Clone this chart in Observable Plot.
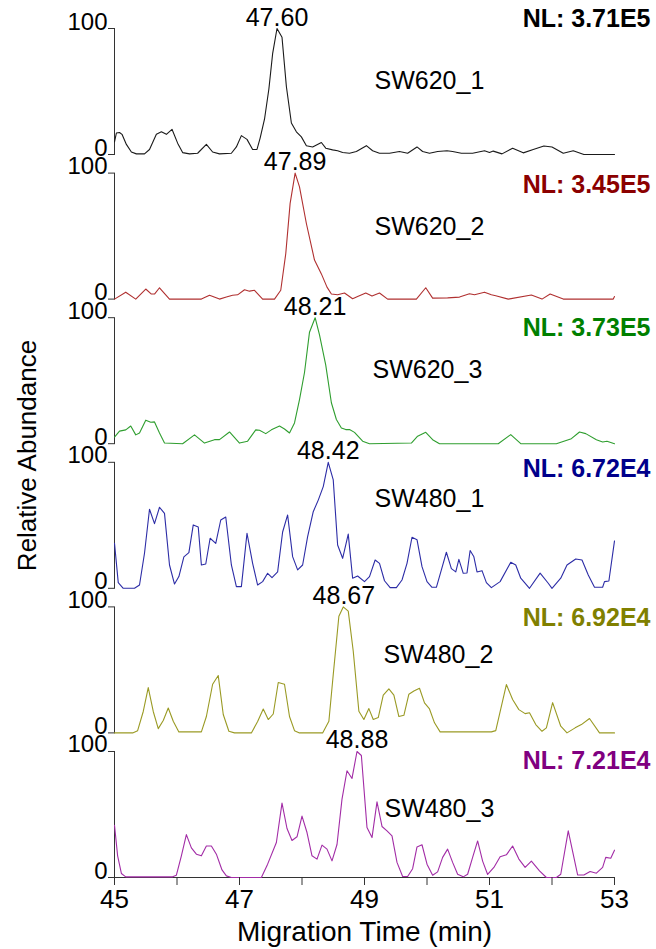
<!DOCTYPE html>
<html><head><meta charset="utf-8">
<script src="https://cdn.jsdelivr.net/npm/d3@7"></script>
<script src="https://cdn.jsdelivr.net/npm/@observablehq/plot@0.6"></script>
<style>
body{margin:0;background:#fff;}
#chart svg{display:block;font-family:"Liberation Sans",Arial,Helvetica,sans-serif;background:#fff;}
</style>
</head><body><div id="chart"></div>
<script>
// ---------- data ----------
const samples = ["SW620_1", "SW620_2", "SW620_3", "SW480_1", "SW480_2", "SW480_3"];
const nlLabels = ["NL: 3.71E5", "NL: 3.45E5", "NL: 3.73E5", "NL: 6.72E4", "NL: 6.92E4", "NL: 7.21E4"];
const peakTimes = [47.60, 47.89, 48.21, 48.42, 48.67, 48.88];
const xTicks = [45, 46, 47, 48, 49, 50, 51, 52, 53];
const xTickLabels = [45, 47, 49, 51, 53];
const yTicks = [0, 100];
const xTitle = "Migration Time (min)";
const yTitle = "Relative Abundance";

// [time (min), relative abundance (%)]
const sw620_1 = [[45.00,10],[45.03,17],[45.08,17.5],[45.12,16],[45.19,8],[45.27,2],[45.35,0.5],[45.48,0.5],[45.56,4],[45.67,16],[45.75,18],[45.83,16],[45.92,20],[46.01,9],[46.09,1.5],[46.20,0.5],[46.33,1],[46.47,8],[46.57,2],[46.68,0.5],[46.87,1],[46.95,6],[47.03,15],[47.12,12],[47.21,4],[47.28,4],[47.33,13],[47.40,28],[47.47,52],[47.53,80],[47.60,100],[47.68,93],[47.75,54],[47.83,25],[47.91,18],[47.99,14],[48.07,7],[48.17,6],[48.31,9.5],[48.38,5],[48.49,3.7],[48.57,3],[48.65,1.6],[48.76,1],[48.87,2.4],[49.03,7],[49.13,3],[49.24,1],[49.40,1],[49.56,2.4],[49.69,1],[49.84,6],[49.93,2.4],[50.04,1],[50.17,2.4],[50.32,3],[50.41,2.4],[50.55,1],[50.73,1],[50.92,3],[51.00,1.6],[51.06,2.7],[51.20,0.5],[51.37,5],[51.54,1.3],[51.70,4],[51.87,6.7],[52.00,6],[52.18,1],[52.34,3],[52.51,0],[53.00,0]];
const sw620_2 = [[45.00,0],[45.18,5.5],[45.34,0],[45.50,8],[45.59,4],[45.64,4],[45.72,9],[45.88,0],[46.39,0],[46.52,3],[46.68,0],[46.79,1.6],[46.89,3],[46.97,3.4],[47.08,7.4],[47.16,6.3],[47.24,7],[47.37,0],[47.56,0],[47.66,7],[47.74,36],[47.81,76],[47.89,100],[47.96,89],[48.07,60],[48.20,31],[48.31,20],[48.40,9.5],[48.47,4],[48.57,3.4],[48.68,4.8],[48.81,0.3],[48.89,2],[49.02,4.8],[49.12,2.4],[49.24,4.8],[49.37,0],[49.83,0],[49.98,9],[50.09,0.8],[50.33,1],[50.52,1.6],[50.68,4.2],[50.76,3.4],[50.92,5.5],[51.03,3.4],[51.10,2.6],[51.30,0],[51.67,3.2],[51.84,0],[51.97,4],[52.18,0],[52.98,0],[53.00,2]];
const sw620_3 = [[45.00,5.3],[45.08,10],[45.18,11],[45.26,14],[45.34,7],[45.40,8.5],[45.50,18.7],[45.58,17],[45.64,17.3],[45.72,8.5],[45.80,0.5],[46.09,0],[46.28,7],[46.44,0.5],[46.60,3.2],[46.68,3.2],[46.84,9.3],[47.00,0.5],[47.13,2],[47.26,11],[47.32,10.7],[47.42,8],[47.51,11],[47.64,14],[47.72,11.7],[47.80,8.5],[47.88,16.5],[47.96,35],[48.04,56.5],[48.12,88.5],[48.21,100],[48.28,86.4],[48.38,62.4],[48.47,32.5],[48.55,19.2],[48.63,12.5],[48.70,11.2],[48.76,11.2],[48.84,9],[48.97,2],[49.08,0],[49.75,0.5],[49.85,6],[49.98,9],[50.09,3.2],[50.20,0],[51.14,0],[51.34,7.2],[51.50,0],[52.07,0],[52.31,4],[52.44,9.3],[52.54,8],[52.71,3.2],[52.81,1.3],[52.88,2],[53.00,0]];
const sw480_1 = [[45.00,35.7],[45.06,4.5],[45.14,0],[45.32,0],[45.40,2.6],[45.48,27.8],[45.56,62.7],[45.64,51.3],[45.72,64.3],[45.80,59.5],[45.88,18.5],[45.96,3.4],[46.03,9.3],[46.11,25],[46.19,28.3],[46.26,50.3],[46.34,48.7],[46.39,18.5],[46.46,19.3],[46.53,39.7],[46.62,35.7],[46.70,54.2],[46.78,56.6],[46.87,18.5],[46.95,1.3],[47.03,1.3],[47.12,43.7],[47.21,19.8],[47.29,2.6],[47.37,5.3],[47.45,11.9],[47.52,8.5],[47.61,13],[47.69,44.7],[47.77,58.2],[47.85,25.1],[47.93,14.6],[48.01,18.5],[48.09,41],[48.18,60.8],[48.26,70],[48.34,80.7],[48.42,100],[48.50,86],[48.57,34.4],[48.65,23.8],[48.74,43],[48.81,8],[48.89,9.8],[49.00,5.3],[49.08,9.3],[49.17,22.5],[49.24,19.8],[49.32,6],[49.41,0.5],[49.51,0.5],[49.60,6.6],[49.68,19.8],[49.76,40.5],[49.84,38.6],[49.92,17.2],[50.00,5.3],[50.08,0.8],[50.15,0.8],[50.23,14.6],[50.31,28.6],[50.39,15.6],[50.46,13],[50.51,23],[50.58,11.9],[50.64,12.2],[50.69,30],[50.75,25],[50.80,13],[50.88,14],[50.95,4.5],[51.03,0.5],[51.17,5.3],[51.34,20.6],[51.42,18.5],[51.50,8],[51.64,0],[51.81,12],[51.94,4],[52.00,0],[52.14,8],[52.24,18.5],[52.38,23.3],[52.48,22.5],[52.58,10.6],[52.68,0.8],[52.81,0.8],[52.84,5.3],[52.91,5.8],[53.00,37.6]];
const sw480_2 = [[45.00,0],[45.29,0],[45.37,1.8],[45.46,17],[45.54,36],[45.62,17],[45.70,3.4],[45.78,9.8],[45.86,19.8],[45.94,9.3],[46.03,0.8],[46.39,0.8],[46.47,13],[46.57,38.6],[46.66,45.5],[46.74,14.6],[46.83,1.3],[46.92,0],[47.19,0],[47.29,9],[47.38,19],[47.46,10.6],[47.54,15],[47.62,40],[47.72,38.6],[47.80,13],[47.88,1.8],[47.96,0],[48.33,0],[48.43,9.3],[48.50,46.3],[48.59,92.6],[48.66,100],[48.74,96.6],[48.82,64.8],[48.91,17.2],[48.99,10.6],[49.07,19.3],[49.14,10.6],[49.22,12.2],[49.30,30],[49.39,35],[49.47,30],[49.55,13],[49.63,14],[49.71,30.7],[49.79,33.3],[49.88,35.4],[49.96,23.8],[50.04,19],[50.12,8],[50.21,0.8],[51.03,0.8],[51.10,1.8],[51.27,38.4],[51.37,26.5],[51.47,18.5],[51.57,15.3],[51.64,16],[51.74,6.6],[51.84,1.3],[51.91,4],[52.01,24],[52.14,5.3],[52.24,0],[52.37,4],[52.47,6.6],[52.60,11.4],[52.76,0],[53.00,0]];
const sw480_3 = [[45.00,41.5],[45.05,17.2],[45.11,3.2],[45.18,0.5],[45.93,0.5],[45.99,1.8],[46.07,17.2],[46.15,34],[46.23,23.5],[46.31,18.5],[46.39,17.2],[46.47,25],[46.55,25],[46.63,18.5],[46.72,6],[46.79,1.3],[46.87,0],[47.35,0],[47.45,10.6],[47.59,27.8],[47.68,59],[47.76,38.9],[47.84,29.4],[47.92,32.3],[48.00,48.7],[48.08,35.7],[48.16,17.2],[48.24,14.6],[48.32,25.7],[48.40,22.5],[48.48,13.2],[48.56,26.2],[48.64,62.2],[48.72,84.7],[48.80,78.6],[48.88,100],[48.95,96.8],[49.04,39.7],[49.12,31.7],[49.20,60],[49.28,40.5],[49.36,37],[49.44,33],[49.52,12],[49.61,0.8],[49.69,0.8],[49.77,7],[49.84,24.3],[49.92,26],[50.00,10.6],[50.09,1.8],[50.17,4.5],[50.25,16],[50.33,22.5],[50.41,12],[50.49,2.6],[50.58,0.5],[50.65,2.6],[50.73,16],[50.81,29],[50.89,13],[50.97,2.4],[51.07,8],[51.17,16.4],[51.27,18],[51.37,25],[51.47,14.6],[51.57,8],[51.67,13],[51.80,5.3],[51.91,0],[52.07,0],[52.14,2.6],[52.26,37],[52.41,2],[52.51,2],[52.61,4.8],[52.71,3.4],[52.81,8],[52.86,16],[52.94,15.3],[53.00,21.7]];

// ---------- styles ----------
const lineColors = ["#1a1a1a", "#b03030", "#2f9e2f", "#2c2ca6", "#9a9a24", "#a22ca6"];
const nlColors = ["#000000", "#8b0000", "#008000", "#00008b", "#808000", "#800080"];
const nlDy = [-10, 12, 10, 7, 11, 10];
const nameDx = [260, 260, 258, 260, 269, 270];
const nameDy = [52, 54, 52, 37, 48, 58];

// ---------- build ----------
const series = [sw620_1, sw620_2, sw620_3, sw480_1, sw480_2, sw480_3];
const rows = series.map((s, i) => s.map(([t, v]) => ({sample: samples[i], t, v})));
const peaks = samples.map((s, i) => ({sample: s, t: peakTimes[i], v: yTicks[1]}));
const last = samples[samples.length - 1];

const W = 656, H = 949, mT = 28, mB = 72, mL = 114, mR = 42;
const font = '"Liberation Sans", Arial, Helvetica, sans-serif';

const marks = [
  Plot.frame({anchor: "left", stroke: "#333"}),
  Plot.ruleY([{sample: last}], {y: () => yTicks[0], fy: "sample", stroke: "#333"}),
  ...rows.map((r, i) => Plot.line(r, {x: "t", y: "v", fy: "sample", stroke: lineColors[i], strokeWidth: 1.1})),
  // y axis: ticks + labels (baseline sits on the tick, as in the reference)
  Plot.axisY({ticks: yTicks, tickSize: 6, fill: "none", stroke: "#333", label: null}),
  Plot.text(yTicks, {y: d => d, text: d => String(d), frameAnchor: "left", textAnchor: "end", lineAnchor: "bottom", dx: -7, dy: 1, fontSize: 24, fontFamily: font, fill: "#000"}),
  // x axis (bottom facet only): ticks at every minute, labels every 2 min
  Plot.axisX({ticks: xTicks, tickSize: 8, fill: "none", stroke: "#333", label: null}),
  Plot.text(xTickLabels, {x: d => d, fy: () => last, text: d => String(d), frameAnchor: "bottom", textAnchor: "middle", lineAnchor: "top", dy: 12, fontSize: 26, fontFamily: font, fill: "#000"}),
  Plot.text(peaks, {x: "t", y: "v", fy: "sample", text: d => d3.format(".2f")(d.t), lineAnchor: "bottom", dy: -3, fontSize: 25, fontFamily: font, fill: "#000"}),
  ...samples.map((s, i) => Plot.text([s], {fy: d => d, text: () => nlLabels[i], frameAnchor: "top-right", textAnchor: "end", lineAnchor: "middle", dx: 36, dy: nlDy[i], fontSize: 25, fontWeight: "bold", fontFamily: font, fill: nlColors[i]})),
  ...samples.map((s, i) => Plot.text([s], {fy: d => d, text: d => d, frameAnchor: "top-left", textAnchor: "start", lineAnchor: "middle", dx: nameDx[i], dy: nameDy[i], fontSize: 25, fontFamily: font, fill: "#000"})),
  Plot.text([xTitle], {fy: () => last, text: d => d, frameAnchor: "bottom", lineAnchor: "bottom", dy: 63, fontSize: 28, fontFamily: font, fill: "#000"})
];

const svg = Plot.plot({
  width: W, height: H,
  marginTop: mT, marginBottom: mB, marginLeft: mL, marginRight: mR,
  x: {domain: [xTicks[0], xTicks[xTicks.length - 1]], label: null},
  y: {domain: [yTicks[0], yTicks[1]], label: null},
  fy: {domain: samples, axis: null, label: null, paddingInner: 0.1286, paddingOuter: 0, round: false},
  style: {fontFamily: font, background: "#fff", color: "#000"},
  marks
});

d3.select(svg).append("text")
  .attr("transform", `translate(36,${(mT + H - mB) / 2 + 3}) rotate(-90)`)
  .attr("text-anchor", "middle")
  .attr("font-size", 26)
  .attr("font-family", font)
  .attr("fill", "#000")
  .text(yTitle);

document.getElementById("chart").appendChild(svg);
</script>
</body></html>
